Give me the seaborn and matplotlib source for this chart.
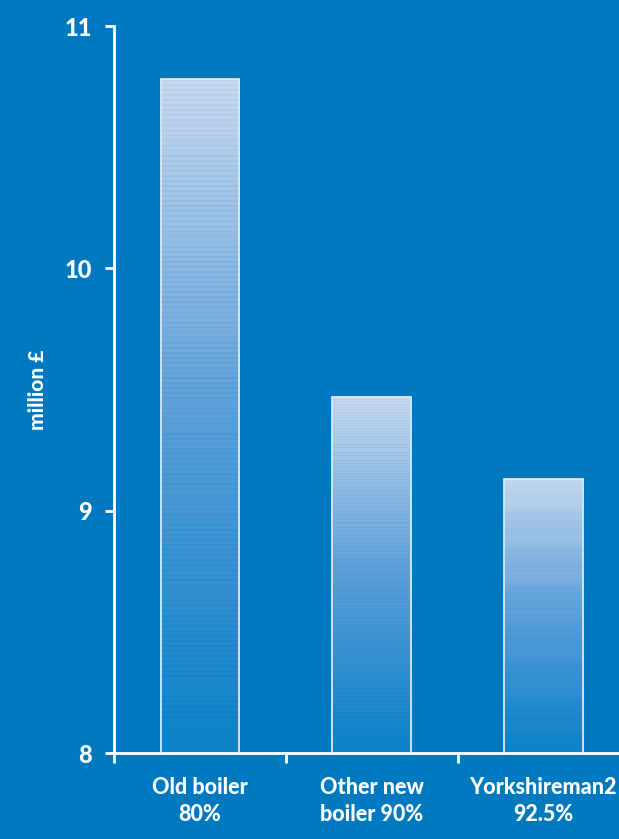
import numpy as np
import pandas as pd
import matplotlib
matplotlib.use('Agg')
import matplotlib.pyplot as plt
import seaborn as sns
from matplotlib.colors import LinearSegmentedColormap

# Data
boilers = ['Old boiler\n80%', 'Other new\nboiler 90%', 'Yorkshireman2\n92.5%']
cost = [10.78, 9.47, 9.13]
y_ticks = [8, 9, 10, 11]

bg = '#0079c1'
top_col = '#c8d9ef'
bot_col = '#0c82c9'

sns.set_theme(style='white')
plt.rcParams['font.family'] = ['Lato', 'DejaVu Sans']

fig = plt.figure(figsize=(6.19, 8.39), dpi=100, facecolor=bg)
ax = fig.add_axes([0.184, 0.1025, 0.816, 0.8665])
ax.set_facecolor(bg)

df = pd.DataFrame({'boiler': boilers, 'cost': cost})
sns.barplot(data=df, x='boiler', y='cost', width=0.456, ax=ax,
            color=bg, edgecolor='#dde9f6', linewidth=1.3, zorder=2)

ax.set_ylim(8, 11)
ax.set_xlim(-0.5, 2.44)

# gradient fill with faint horizontal stripes
cmap = LinearSegmentedColormap.from_list('grad', [bot_col, '#5c9fd8', top_col])
n = 400
grad = np.linspace(0, 1, n)
stripes = np.zeros(n)
stripes[::3] = -0.06
img = np.clip(grad + stripes, 0, 1).reshape(-1, 1)
for p in ax.patches:
    x0 = p.get_x()
    w = p.get_width()
    h = p.get_height()
    im = ax.imshow(img, extent=[x0, x0 + w, 8, h], origin='lower', aspect='auto',
                   cmap=cmap, vmin=0, vmax=1, interpolation='nearest', zorder=1.5)
    im.set_clip_path(p)
    p.set_facecolor('none')
    p.set_zorder(3)

for s in ['top', 'right']:
    ax.spines[s].set_visible(False)
for s in ['left', 'bottom']:
    ax.spines[s].set_color('white')
    ax.spines[s].set_linewidth(2)

ax.set_yticks(y_ticks)
ax.set_yticklabels([str(t) for t in y_ticks])
ax.tick_params(axis='y', colors='white', labelsize=17, length=6.5, width=2,
               pad=9, direction='out', left=True)
for t in ax.get_yticklabels():
    t.set_fontweight('black')

ax.set_xticks([0, 1, 2])
ax.set_xticklabels(boilers)
ax.set_xticks([-0.5, 0.5, 1.5], minor=True)
ax.tick_params(axis='x', which='major', length=0, colors='white', labelsize=15.5, pad=17)
ax.tick_params(axis='x', which='minor', length=7, width=2, color='white',
               direction='out', bottom=True)
for t in ax.get_xticklabels():
    t.set_fontweight('black')
    t.set_linespacing(1.35)

ax.set_xlabel('')
ax.set_ylabel('million £', color='white', fontsize=15, fontweight='black')
ax.yaxis.set_label_coords(-0.132, 0.5)

fig.savefig('out.png', dpi=100, facecolor=bg)
